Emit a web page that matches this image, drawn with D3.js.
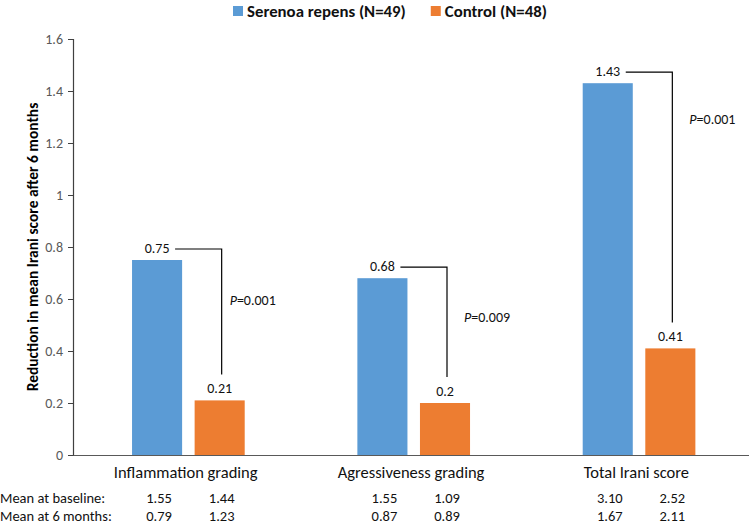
<!DOCTYPE html>
<html>
<head>
<meta charset="utf-8">
<script src="https://cdn.jsdelivr.net/npm/d3@7"></script>
<style>
  html, body { margin: 0; padding: 0; background: #fff; }
  svg { display: block; }
  text { font-family: Carlito, Calibri, Lato, "Open Sans", sans-serif; }
</style>
</head>
<body>
<div id="chart"></div>
<script>
// ---- data ----
const categories = ["Inflammation grading", "Agressiveness grading", "Total Irani score"];
const seriesNames = ["Serenoa repens (N=49)", "Control (N=48)"];
const serenoaValues = [0.75, 0.68, 1.43];
const controlValues = [0.21, 0.2, 0.41];
const yTicks = [0, 0.2, 0.4, 0.6, 0.8, 1, 1.2, 1.4, 1.6];
const pValues = ["0.001", "0.009", "0.001"];
const pLabelLevel = [0.596, 0.532, 1.292]; // y-level (data units) of P label
const baselineSerenoa = ["1.55", "1.55", "3.10"];
const baselineControl = ["1.44", "1.09", "2.52"];
const sixMonthSerenoa = ["0.79", "0.87", "1.67"];
const sixMonthControl = ["1.23", "0.89", "2.11"];
const rowLabels = ["Mean at baseline:", "Mean at 6 months:"];
const yTitle = "Reduction in mean Irani score after 6 months";

// ---- layout ----
const W = 749, H = 525;
const colors = ["#5B9BD5", "#ED7D31"];
const svg = d3.select("#chart").append("svg").attr("width", W).attr("height", H);

const x0 = d3.scaleBand().domain(categories).range([73, 749]);
const bw = x0.bandwidth();
const x1 = d3.scaleBand().domain(seriesNames).range([bw * 0.262, bw * 0.762]).paddingInner(0.2);
const y = d3.scaleLinear().domain([0, 1.6]).range([455, 39]);

// y axis
const yAxis = svg.append("g").attr("transform", "translate(73,0)")
  .call(d3.axisLeft(y).tickValues(yTicks).tickSize(5).tickPadding(5).tickFormat(d3.format("~g")));
yAxis.select(".domain").attr("stroke", "#404040").attr("stroke-width", 1.2);
yAxis.selectAll(".tick line").attr("stroke", "#404040");
yAxis.selectAll(".tick text").attr("fill", "#595959").style("font-size", "14px")
  .style("font-family", "Carlito, Calibri, Lato, sans-serif");

// y title
svg.append("text")
  .attr("transform", "translate(38,247) rotate(-90)")
  .attr("text-anchor", "middle")
  .style("font-size", "15.5px").style("font-weight", "bold").attr("fill", "#000")
  .text(yTitle);

// bars
const rows = categories.map((c, i) => ({ cat: c, vals: [serenoaValues[i], controlValues[i]] }));
const groups = svg.selectAll("g.grp").data(rows).join("g").attr("class", "grp")
  .attr("transform", d => `translate(${x0(d.cat)},0)`);
groups.selectAll("rect").data(d => d.vals.map((v, j) => ({ s: seriesNames[j], v, j })))
  .join("rect")
  .attr("x", d => x1(d.s)).attr("width", x1.bandwidth())
  .attr("y", d => y(d.v)).attr("height", d => y(0) - y(d.v))
  .attr("fill", d => colors[d.j]);

// value labels
groups.selectAll("text.val").data(d => d.vals.map((v, j) => ({ s: seriesNames[j], v, j })))
  .join("text").attr("class", "val")
  .attr("x", d => x1(d.s) + x1.bandwidth() / 2)
  .attr("y", d => y(d.v) - 7)
  .attr("text-anchor", "middle").style("font-size", "14px").attr("fill", "#111")
  .text(d => d.v);

// x axis
const xAxis = svg.append("g").attr("transform", "translate(0,455)")
  .call(d3.axisBottom(x0).tickSize(0).tickPadding(11));
xAxis.select(".domain").attr("stroke", "#595959").attr("stroke-width", 1.2);
xAxis.selectAll(".tick text").attr("fill", "#111").style("font-size", "16.5px")
  .style("font-family", "Carlito, Calibri, Lato, sans-serif");

// significance brackets
rows.forEach((d, i) => {
  const gx = x0(d.cat);
  const lx = gx + x1(seriesNames[0]) + x1.bandwidth() / 2;
  const rx = gx + x1(seriesNames[1]) + x1.bandwidth() / 2 + 2;
  const yTop = y(d.vals[0]) - 11;
  const yBot = y(d.vals[1]) - 26;
  svg.append("path")
    .attr("d", `M${lx + 18},${yTop}H${rx}V${yBot}`)
    .attr("fill", "none").attr("stroke", "#000").attr("stroke-width", 1.2);
  const pt = svg.append("text")
    .attr("x", rx + (i === 0 ? 8 : 17)).attr("y", y(pLabelLevel[i]) + 5)
    .style("font-size", "14px").attr("fill", "#111");
  pt.append("tspan").style("font-style", "italic").text("P");
  pt.append("tspan").text("=" + pValues[i]);
});

// table under chart
const tableRows = [
  [baselineSerenoa, baselineControl],
  [sixMonthSerenoa, sixMonthControl]
];
tableRows.forEach((r, ri) => {
  const ty = 503 + ri * 18;
  svg.append("text").attr("x", 0).attr("y", ty).style("font-size", "14.5px").attr("fill", "#111")
    .text(rowLabels[ri]);
  categories.forEach((c, ci) => {
    r.forEach((arr, si) => {
      svg.append("text")
        .attr("x", x0(c) + x1(seriesNames[si]) + x1.bandwidth() / 2 + 2)
        .attr("y", ty).attr("text-anchor", "middle")
        .style("font-size", "14.5px").attr("fill", "#111")
        .text(arr[ci]);
    });
  });
});

// legend
const legend = svg.append("g").attr("transform", "translate(233,0)");
let lx = 0;
seriesNames.forEach((s, i) => {
  const g = legend.append("g").attr("transform", `translate(${lx},0)`);
  g.append("rect").attr("x", 0).attr("y", 6).attr("width", 10).attr("height", 10).attr("fill", colors[i]);
  const t = g.append("text").attr("x", 14).attr("y", 17)
    .style("font-size", "16.8px").style("font-weight", "bold").attr("fill", "#111").text(s);
  lx += 14 + t.node().getComputedTextLength() + 25;
});
</script>
</body>
</html>
